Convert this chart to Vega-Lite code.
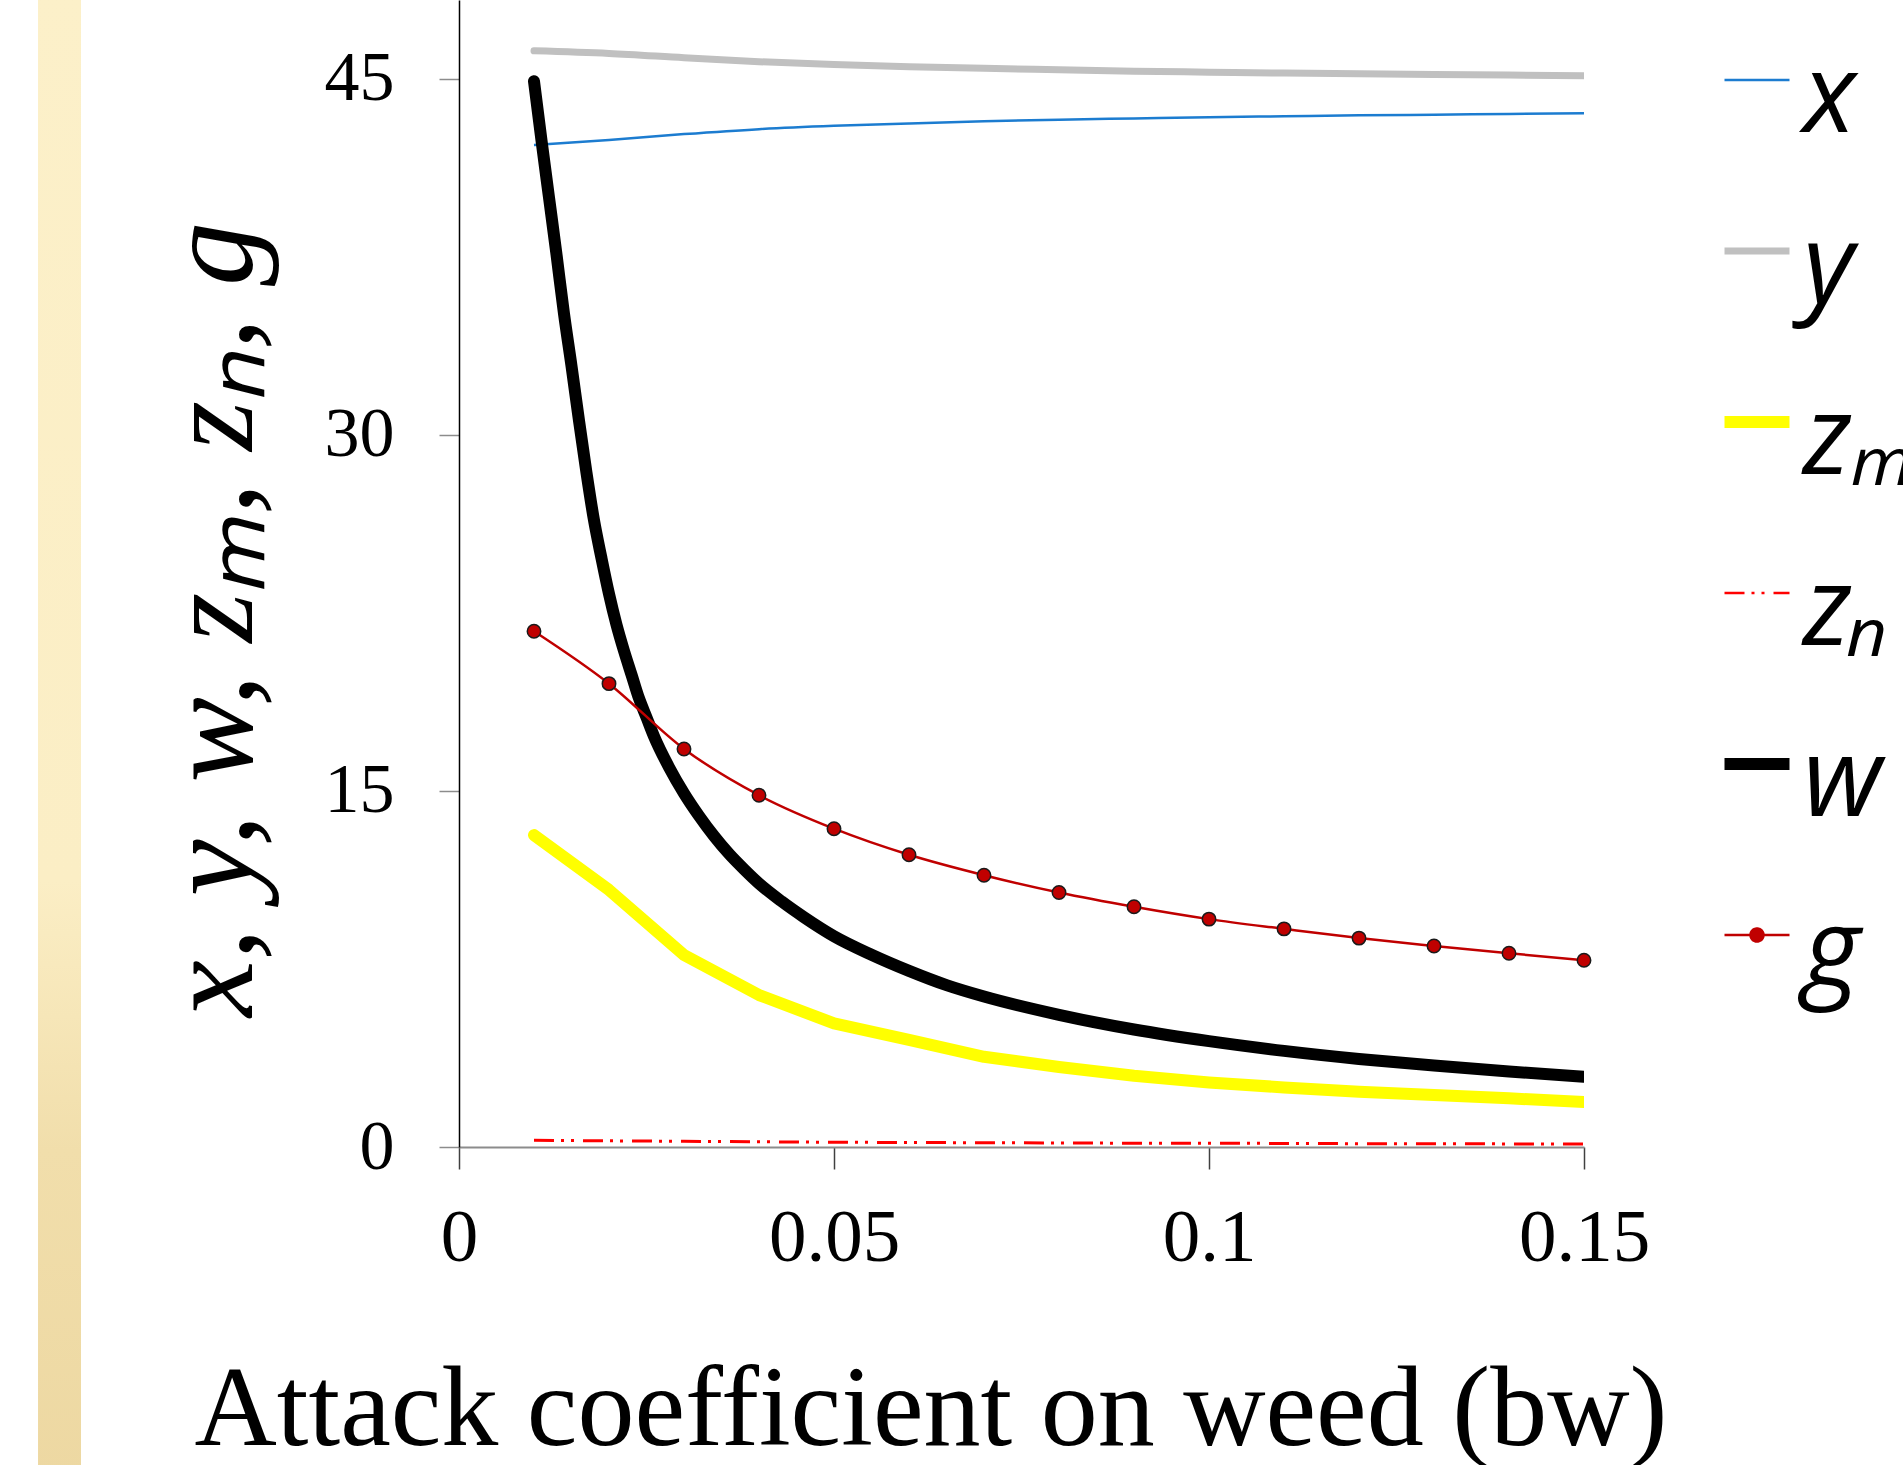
{
  "$schema": "https://vega.github.io/schema/vega-lite/v6.json",
  "width": 1125,
  "height": 1147,
  "autosize": {"type": "none"},
  "padding": {"left": 459, "top": 0, "right": 319, "bottom": 318},
  "background": "white",
  "datasets": {
    "d": [
      {"s": "x", "bw": 0.01, "v": 42.21}, {"s": "x", "bw": 0.02, "v": 42.42}, {"s": "x", "bw": 0.03, "v": 42.67}, {"s": "x", "bw": 0.04, "v": 42.88}, {"s": "x", "bw": 0.05, "v": 43.02}, {"s": "x", "bw": 0.06, "v": 43.12}, {"s": "x", "bw": 0.07, "v": 43.21}, {"s": "x", "bw": 0.08, "v": 43.28}, {"s": "x", "bw": 0.09, "v": 43.33}, {"s": "x", "bw": 0.10, "v": 43.38}, {"s": "x", "bw": 0.11, "v": 43.42}, {"s": "x", "bw": 0.12, "v": 43.46}, {"s": "x", "bw": 0.13, "v": 43.49}, {"s": "x", "bw": 0.14, "v": 43.52}, {"s": "x", "bw": 0.15, "v": 43.55},
      {"s": "y", "bw": 0.01, "v": 46.18}, {"s": "y", "bw": 0.02, "v": 46.07}, {"s": "y", "bw": 0.03, "v": 45.89}, {"s": "y", "bw": 0.04, "v": 45.72}, {"s": "y", "bw": 0.05, "v": 45.60}, {"s": "y", "bw": 0.06, "v": 45.51}, {"s": "y", "bw": 0.07, "v": 45.44}, {"s": "y", "bw": 0.08, "v": 45.38}, {"s": "y", "bw": 0.09, "v": 45.32}, {"s": "y", "bw": 0.10, "v": 45.28}, {"s": "y", "bw": 0.11, "v": 45.24}, {"s": "y", "bw": 0.12, "v": 45.21}, {"s": "y", "bw": 0.13, "v": 45.18}, {"s": "y", "bw": 0.14, "v": 45.16}, {"s": "y", "bw": 0.15, "v": 45.13},
      {"s": "zm", "bw": 0.01, "v": 13.14}, {"s": "zm", "bw": 0.02, "v": 10.83}, {"s": "zm", "bw": 0.03, "v": 8.09}, {"s": "zm", "bw": 0.04, "v": 6.40}, {"s": "zm", "bw": 0.05, "v": 5.21}, {"s": "zm", "bw": 0.06, "v": 4.51}, {"s": "zm", "bw": 0.07, "v": 3.80}, {"s": "zm", "bw": 0.08, "v": 3.37}, {"s": "zm", "bw": 0.09, "v": 3.00}, {"s": "zm", "bw": 0.10, "v": 2.72}, {"s": "zm", "bw": 0.11, "v": 2.51}, {"s": "zm", "bw": 0.12, "v": 2.33}, {"s": "zm", "bw": 0.13, "v": 2.19}, {"s": "zm", "bw": 0.14, "v": 2.05}, {"s": "zm", "bw": 0.15, "v": 1.90},
      {"s": "zn", "bw": 0.01, "v": 0.28}, {"s": "zn", "bw": 0.02, "v": 0.26}, {"s": "zn", "bw": 0.03, "v": 0.24}, {"s": "zn", "bw": 0.04, "v": 0.22}, {"s": "zn", "bw": 0.05, "v": 0.20}, {"s": "zn", "bw": 0.06, "v": 0.19}, {"s": "zn", "bw": 0.07, "v": 0.18}, {"s": "zn", "bw": 0.08, "v": 0.17}, {"s": "zn", "bw": 0.09, "v": 0.16}, {"s": "zn", "bw": 0.10, "v": 0.16}, {"s": "zn", "bw": 0.11, "v": 0.15}, {"s": "zn", "bw": 0.12, "v": 0.14}, {"s": "zn", "bw": 0.13, "v": 0.14}, {"s": "zn", "bw": 0.14, "v": 0.13}, {"s": "zn", "bw": 0.15, "v": 0.13},
      {"s": "w", "bw": 0.010, "v": 44.9}, {"s": "w", "bw": 0.011, "v": 42.4}, {"s": "w", "bw": 0.012, "v": 40.0}, {"s": "w", "bw": 0.013, "v": 37.6}, {"s": "w", "bw": 0.014, "v": 35.1}, {"s": "w", "bw": 0.015, "v": 32.9}, {"s": "w", "bw": 0.016, "v": 30.6}, {"s": "w", "bw": 0.017, "v": 28.4}, {"s": "w", "bw": 0.018, "v": 26.4}, {"s": "w", "bw": 0.019, "v": 24.8}, {"s": "w", "bw": 0.020, "v": 23.3}, {"s": "w", "bw": 0.021, "v": 22.0}, {"s": "w", "bw": 0.022, "v": 20.9}, {"s": "w", "bw": 0.023, "v": 19.9}, {"s": "w", "bw": 0.024, "v": 18.9}, {"s": "w", "bw": 0.025, "v": 18.1}, {"s": "w", "bw": 0.026, "v": 17.3}, {"s": "w", "bw": 0.028, "v": 16.0}, {"s": "w", "bw": 0.030, "v": 14.9}, {"s": "w", "bw": 0.032, "v": 13.95}, {"s": "w", "bw": 0.034, "v": 13.1}, {"s": "w", "bw": 0.036, "v": 12.35}, {"s": "w", "bw": 0.038, "v": 11.7}, {"s": "w", "bw": 0.040, "v": 11.1}, {"s": "w", "bw": 0.043, "v": 10.35}, {"s": "w", "bw": 0.046, "v": 9.68}, {"s": "w", "bw": 0.050, "v": 8.88}, {"s": "w", "bw": 0.055, "v": 8.1}, {"s": "w", "bw": 0.060, "v": 7.42}, {"s": "w", "bw": 0.065, "v": 6.82}, {"s": "w", "bw": 0.070, "v": 6.34}, {"s": "w", "bw": 0.080, "v": 5.57}, {"s": "w", "bw": 0.090, "v": 4.95}, {"s": "w", "bw": 0.100, "v": 4.46}, {"s": "w", "bw": 0.110, "v": 4.05}, {"s": "w", "bw": 0.120, "v": 3.71}, {"s": "w", "bw": 0.130, "v": 3.43}, {"s": "w", "bw": 0.140, "v": 3.18}, {"s": "w", "bw": 0.150, "v": 2.96},
      {"s": "g", "bw": 0.01, "v": 21.73}, {"s": "g", "bw": 0.02, "v": 19.52}, {"s": "g", "bw": 0.03, "v": 16.77}, {"s": "g", "bw": 0.04, "v": 14.82}, {"s": "g", "bw": 0.05, "v": 13.41}, {"s": "g", "bw": 0.06, "v": 12.31}, {"s": "g", "bw": 0.07, "v": 11.45}, {"s": "g", "bw": 0.08, "v": 10.72}, {"s": "g", "bw": 0.09, "v": 10.12}, {"s": "g", "bw": 0.10, "v": 9.60}, {"s": "g", "bw": 0.11, "v": 9.19}, {"s": "g", "bw": 0.12, "v": 8.80}, {"s": "g", "bw": 0.13, "v": 8.47}, {"s": "g", "bw": 0.14, "v": 8.16}, {"s": "g", "bw": 0.15, "v": 7.87}
    ]
  },
  "layer": [
    {
      "data": {"values": [{}]},
      "mark": {
        "type": "rect",
        "color": {
          "gradient": "linear", "x1": 0, "y1": 0, "x2": 0, "y2": 1,
          "stops": [
            {"offset": 0, "color": "#FCF0C9"},
            {"offset": 0.6, "color": "#FBEEC5"},
            {"offset": 0.78, "color": "#F1DEAB"},
            {"offset": 1, "color": "#EDD8A2"}
          ]
        }
      },
      "encoding": {
        "x": {"datum": -0.05613, "type": "quantitative", "scale": {"domain": [0, 0.15], "nice": false, "zero": false}},
        "x2": {"datum": -0.0504},
        "y": {"datum": 49, "type": "quantitative", "scale": {"domain": [0, 48.32], "nice": false, "zero": false}},
        "y2": {"datum": -14}
      }
    },
    {
      "data": {"name": "d"},
      "encoding": {
        "x": {
          "field": "bw", "type": "quantitative",
          "scale": {"domain": [0, 0.15], "nice": false, "zero": false},
          "axis": {"values": [0, 0.05, 0.1, 0.15], "labelExpr": "'' + datum.value", "title": "Attack coefficient on weed (bw)"}
        },
        "y": {
          "field": "v", "type": "quantitative",
          "scale": {"domain": [0, 48.32], "nice": false, "zero": false},
          "axis": {"values": [0, 15, 30, 45], "labelExpr": "'' + datum.value", "title": "x, y, w, zₘ, zₙ, g"}
        },
        "color": {
          "field": "s", "type": "nominal",
          "scale": {"domain": ["x", "y", "zm", "zn", "w", "g"], "range": ["#1C7CD0", "#C0C0C0", "#FFFF00", "#FF0000", "#000000", "#C00000"]},
          "legend": {
            "orient": "none", "legendX": 1243, "legendY": 25, "title": null, "padding": 0,
            "symbolType": "stroke", "symbolSize": 4225, "symbolStrokeWidth": 2.5,
            "labelFont": "Open Sans", "labelFontStyle": "italic", "labelFontSize": 110, "labelColor": "black",
            "labelOffset": -9, "labelBaseline": "middle", "rowPadding": 42, "labelLimit": 400,
            "labelExpr": "datum.value == 'zm' ? 'zₘ' : datum.value == 'zn' ? 'zₙ' : datum.value",
            "encoding": {
              "symbols": {
                "strokeWidth": {"value": {"expr": "datum.value == 'y' ? 7 : (datum.value == 'zm' || datum.value == 'w') ? 12 : 2.5"}},
                "strokeDash": {"value": {"expr": "datum.value == 'zn' ? [20, 7, 3, 7, 3, 9] : [1, 0]"}},
                "shape": {"value": {"expr": "datum.value == 'g' ? 'M-1,0L1,0M0.2,0A0.2,0.2,0,1,1,-0.2,0A0.2,0.2,0,1,1,0.2,0Z' : 'stroke'"}},
                "fill": {"value": {"expr": "datum.value == 'g' ? '#C00000' : 'transparent'"}}
              },
              "labels": {"dy": {"value": 19}}
            }
          }
        }
      },
      "layer": [
        {"transform": [{"filter": "datum.s == 'x'"}], "mark": {"type": "line", "strokeWidth": 2.5, "interpolate": "monotone", "clip": true}},
        {"transform": [{"filter": "datum.s == 'y'"}], "mark": {"type": "line", "strokeWidth": 7, "interpolate": "monotone", "strokeCap": "round", "clip": true}},
        {"transform": [{"filter": "datum.s == 'zm'"}], "mark": {"type": "line", "strokeWidth": 12, "interpolate": "linear", "strokeCap": "round", "strokeJoin": "round", "clip": true}},
        {"transform": [{"filter": "datum.s == 'zn'"}], "mark": {"type": "line", "strokeWidth": 3, "strokeDash": [20, 7, 3, 7, 3, 9], "clip": true}},
        {"transform": [{"filter": "datum.s == 'w'"}], "mark": {"type": "line", "strokeWidth": 12, "interpolate": "monotone", "strokeCap": "round", "strokeJoin": "round", "clip": true}},
        {"transform": [{"filter": "datum.s == 'g'"}], "mark": {"type": "line", "strokeWidth": 2.5, "interpolate": "monotone", "clip": true}}
      ]
    },
    {
      "data": {"name": "d"},
      "transform": [{"filter": "datum.s == 'g'"}],
      "mark": {"type": "point", "filled": true, "fill": "#C00000", "stroke": "#1a1a1a", "strokeWidth": 1.5, "size": 180, "opacity": 1},
      "encoding": {
        "x": {"field": "bw", "type": "quantitative", "scale": {"domain": [0, 0.15], "nice": false, "zero": false}},
        "y": {"field": "v", "type": "quantitative", "scale": {"domain": [0, 48.32], "nice": false, "zero": false}}
      }
    }
  ],
  "config": {
    "view": {"stroke": null},
    "axisX": {
      "grid": false, "domainColor": "#8c8c8c", "domainWidth": 2,
      "tickSize": 22, "tickColor": "#404040", "tickWidth": 1.5,
      "labelFont": "Liberation Serif", "labelFontSize": 75, "labelColor": "black", "labelPadding": 32, "labelFlush": false,
      "titleFont": "Liberation Serif", "titleFontSize": 114, "titleFontWeight": "normal", "titleColor": "black",
      "titleX": -265, "titleY": 297, "titleAlign": "left", "titleAnchor": "start", "titleBaseline": "alphabetic"
    },
    "axisY": {
      "grid": false, "domainColor": "black", "domainWidth": 1.5,
      "tickSize": 20, "tickColor": "#8c8c8c", "tickWidth": 1.5,
      "labelFont": "Liberation Serif", "labelFontSize": 70, "labelColor": "black", "labelPadding": 45, "labelFlush": false,
      "titleFont": "Liberation Serif", "titleFontSize": 128, "titleFontStyle": "italic", "titleFontWeight": "normal", "titleColor": "black",
      "titleX": -208, "titleY": 619, "titleAlign": "center", "titleAngle": 270, "titleBaseline": "alphabetic"
    }
  }
}
